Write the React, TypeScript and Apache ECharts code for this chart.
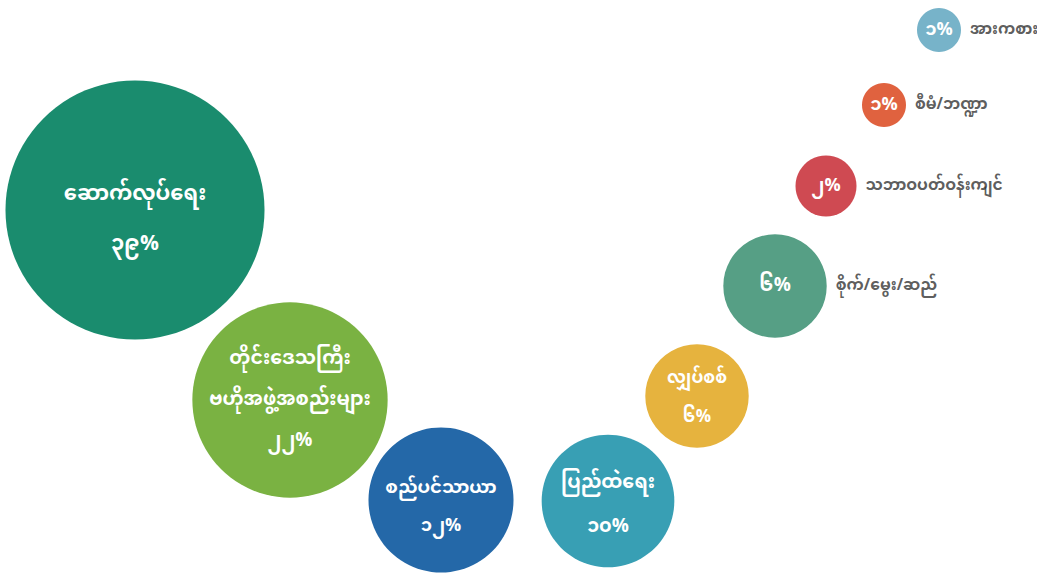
import React, { useEffect, useRef } from "react";
import * as echarts from "echarts";

const categories = [
  "ဆောက်လုပ်ရေး",
  "တိုင်းဒေသကြီး\nဗဟိုအဖွဲ့အစည်းများ",
  "စည်ပင်သာယာ",
  "ပြည်ထဲရေး",
  "လျှပ်စစ်",
  "စိုက်/မွေး/ဆည်",
  "သဘာဝပတ်ဝန်းကျင်",
  "စီမံ/ဘဏ္ဍာ",
  "အားကစား",
];
const values = [39, 22, 12, 10, 6, 6, 2, 1, 1];
const xPos = [135, 290, 441, 608, 697, 775, 826, 884, 939];
const yPos = [210, 400, 500, 501, 396, 286, 186, 105, 30];
const colors = ["#1a8c6e", "#7ab242", "#2468a8", "#389fb4", "#e6b33e", "#569f85", "#cf4a52", "#e0623f", "#77b3c9"];
const insideName = [true, true, true, true, true, false, false, false, false];
const labelFont = [21, 19, 18, 19, 17, 19, 18, 18, 18];
const labelLine = [50, 41, 38, 44, 39, 40, 40, 40, 40];
const labelShift = [10, 0, 7, 4, 2, 0, 0, 0, 0];

const FONT = '"Noto Sans Myanmar", "Noto Sans", "DejaVu Sans", sans-serif';
const myDigits = "၀၁၂၃၄၅၆၇၈၉";
const toMy = (n: number) => String(n).split("").map((d) => myDigits[+d]).join("");
const size = (v: number) => 41 * Math.sqrt(v) + 3;

export default function App() {
  const ref = useRef<HTMLDivElement>(null);
  useEffect(() => {
    const chart = echarts.init(ref.current!, null, { renderer: "svg" });
    const data = values.map((v, i) => {
      const st = { fontSize: labelFont[i], fontWeight: "bold", color: "#fff", lineHeight: labelLine[i], fontFamily: FONT };
      return {
        value: [xPos[i], yPos[i], v],
        name: categories[i],
        itemStyle: { color: colors[i], opacity: 1 },
        label: {
          offset: [0, labelShift[i]],
          formatter: insideName[i] ? `{n|${categories[i]}}\n{v|${toMy(v)}%}` : `{v|${toMy(v)}%}`,
          rich: { n: st, v: st },
        },
      };
    });
    const outside = values
      .map((v, i) => ({
        value: [xPos[i], yPos[i], v],
        name: categories[i],
        itemStyle: { color: "transparent" },
      }))
      .filter((_, i) => !insideName[i]);
    chart.setOption({
      animation: false,
      grid: { left: 0, right: 0, top: 0, bottom: 0 },
      xAxis: { type: "value", min: 0, max: 1037, show: false },
      yAxis: { type: "value", min: 0, max: 577, inverse: true, show: false },
      series: [
        {
          type: "scatter",
          data,
          symbolSize: (val: number[]) => size(val[2]),
          label: {
            show: true,
            position: "inside",
            color: "#fff",
            fontFamily: FONT,
          },
          emphasis: { disabled: true },
        },
        {
          type: "scatter",
          data: outside,
          symbolSize: (val: number[]) => size(val[2]),
          label: {
            show: true,
            position: "right",
            distance: 9,
            formatter: (p: any) => p.name,
            color: "#333",
            fontSize: 15.5,
            fontWeight: "bold",
            fontFamily: FONT,
          },
          emphasis: { disabled: true },
        },
      ],
    });
    return () => chart.dispose();
  }, []);
  return (
    <div
      ref={ref}
      style={{ position: "fixed", left: 0, top: 0, width: 1037, height: 577, background: "#fff" }}
    />
  );
}
